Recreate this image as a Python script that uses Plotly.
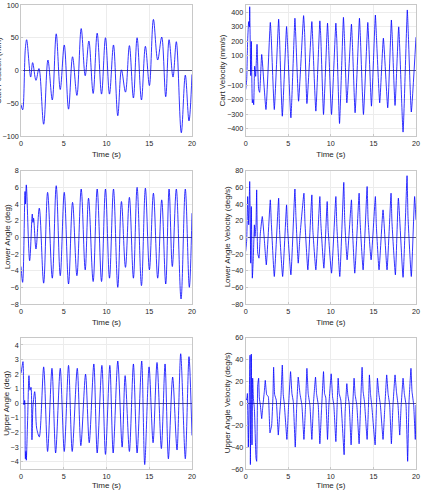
import plotly.graph_objects as go

# ---------------- data ----------------
pos_t = [0, 0.19, 0.51, 0.66, 1.13, 1.36, 1.75, 2.10, 2.65, 3.15, 3.66, 4.12, 4.59, 5.06, 5.56,
         6.03, 6.54, 7.04, 7.51, 7.94, 8.44, 8.91, 9.42, 9.88, 10.35, 10.82, 11.32, 11.75,
         12.22, 12.68, 13.15, 13.58, 14.09, 14.55, 15.02, 15.49, 15.99, 16.46, 16.93, 17.32,
         17.78, 18.17, 18.75, 19.22, 19.65, 20.0]
pos_y = [-52, -60, 34, 47, -10, 12, -15, 3, -82, 16, -45, 56, -29, 39, -59,
         21, -38, 64, -8, 45, -35, 57, -36, 50, -36, 39, -69, 1,
         -33, 38, -42, 50, -45, 37, -23, 78, 16, 51, -40, 47,
         -10, 44, -95, -7, -77, -6]

vel_t = [0, 0.12, 0.23, 0.35, 0.43, 0.47, 0.59, 0.66, 0.78, 0.86, 0.94, 1.05, 1.17, 1.33,
         1.52, 1.64, 1.88, 2.38, 2.89, 3.00, 3.36, 3.87, 3.98, 4.30, 4.80, 4.92, 5.31, 5.78,
         5.90, 6.21, 6.80, 6.92, 7.19, 7.77, 7.88, 8.24, 8.71, 8.82, 9.14, 9.61, 9.72, 10.08,
         10.59, 10.70, 11.02, 11.48, 11.60, 11.88, 12.42, 12.53, 12.85, 13.36, 13.47, 13.83,
         14.34, 14.45, 14.77, 15.23, 15.35, 15.74, 16.17, 16.68, 17.11, 17.22, 17.54, 17.97,
         18.48, 18.98, 19.10, 19.45, 20.0]
vel_y = [-131, -60, 210, 336, 300, 438, -35, 200, -222, -200, -235, 30, -40, 180,
         -130, -150, 110, -268, 330, 230, -268, 352, 210, -314, 302, 180, -325, 359,
         210, -211, 377, 260, -227, 336, 200, -279, 341, 230, -302, 325, 200, -302,
         325, 210, -364, 365, 220, -222, 318, 190, -290, 359, 230, -302,
         330, 200, -245, 381, 240, -222, 222, -256, 347, 220, -240, 300,
         -423, 416, 250, -285, 229]

la_t = [0, 0.19, 0.47, 0.53, 0.62, 1.01, 1.32, 1.40, 1.47, 1.75, 2.14, 2.65, 3.11, 3.66,
        4.12, 4.59, 5.06, 5.56, 6.03, 6.54, 7.04, 7.51, 7.90, 8.44, 8.91, 9.42, 9.88, 10.35,
        10.82, 11.32, 11.75, 12.22, 12.68, 13.15, 13.58, 14.09, 14.55, 15.02, 15.49, 15.99,
        16.46, 16.93, 17.32, 17.70, 18.17, 18.72, 19.22, 19.69, 20.0]
la_y = [-3.5, -5.4, 5.5, 4.0, 6.3, -2.8, 2.8, 1.8, 2.3, -1.4, 3.5, -5.5, 5.4, -4.9,
        6.2, -4.6, 5.4, -5.6, 4.2, -4.6, 5.8, -3.9, 4.7, -5.3, 5.8, -5.3, 5.8, -4.9,
        5.8, -6.0, 4.3, -3.6, 4.8, -4.9, 6.0, -5.8, 5.9, -3.9, 5.3, -4.9,
        4.5, -5.6, 5.8, -3.5, 5.8, -7.4, 5.8, -6.0, 2.9]

lav_t = [0, 0.12, 0.23, 0.35, 0.47, 0.59, 0.66, 0.78, 0.90, 1.02, 1.09, 1.21, 1.29, 1.41,
         1.56, 1.72, 1.95, 2.19, 2.42, 2.89, 3.00, 3.36, 3.87, 3.98, 4.34, 4.80, 4.91, 5.31,
         5.78, 5.90, 6.17, 6.37, 6.84, 6.96, 7.30, 7.77, 7.88, 8.24, 8.71, 8.82, 9.18, 9.57,
         9.68, 10.08, 10.59, 10.70, 11.05, 11.52, 11.63, 11.91, 12.42, 12.53, 12.81, 13.32,
         13.43, 13.79, 14.26, 14.37, 14.73, 15.23, 15.34, 15.66, 16.13, 16.60, 17.07, 17.18,
         17.58, 17.93, 18.48, 18.95, 19.06, 19.45, 19.84, 20.0]
lav_y = [-17, -3, 49, 15, 67, -31, 37, -49, -23, 15, 1, 15, 57, -19,
         -25, 5, 25, -3, -33, 45, 20, -47, 47, 8, -47, 39, 12, -45,
         58, 25, -31, 1, 53, 18, -39, 51, 10, -39, 49, 18, -37, 43,
         10, -43, 49, 15, -47, 66, 20, -27, 45, 12, -43, 53,
         20, -39, 61, 22, -27, 49, 15, -39, 33, -39, 53, 18,
         -45, 47, -48, 74, 25, -47, 49, 21]

ua_t = [0, 0.12, 0.23, 0.35, 0.43, 0.51, 0.58, 0.62, 0.78, 0.93, 1.05, 1.17, 1.28, 1.40,
        1.60, 1.67, 1.83, 2.14, 2.65, 3.11, 3.62, 4.05, 4.59, 5.06, 5.56, 5.99, 6.58, 7.00,
        7.55, 7.98, 8.52, 8.91, 9.46, 9.88, 10.39, 10.78, 11.32, 11.83, 12.18, 12.68, 13.15,
        13.58, 14.12, 14.47, 14.98, 15.45, 15.91, 16.42, 16.85, 17.24, 17.74, 18.25, 18.68,
        19.22, 19.65, 20.0]
ua_y = [2.06, 2.5, 2.86, -0.1, 0.2, -3.8, -3.3, -3.9, -1.0, 1.9, 0.9, 1.1, -2.5, -0.2,
        0.8, 0.45, -1.7, -2.3, 2.5, -3.3, 2.4, -3.4, 2.4, -3.3, 2.6, -3.3, 2.4, -2.9,
        2.0, -2.7, 2.7, -3.4, 2.6, -3.5, 2.6, -3.4, 2.9, -3.0, 1.9, -3.3, 2.7,
        -3.4, 2.9, -4.2, 2.5, -2.7, 2.8, -3.1, 2.7, -3.8, 1.8, -3.2, 3.4,
        -3.8, 3.2, -2.2]

uav_t = [0, 0.12, 0.20, 0.31, 0.51, 0.55, 0.66, 0.74, 0.82, 0.90, 1.02, 1.21, 1.29, 1.41,
         1.52, 1.60, 1.72, 1.88, 1.99, 2.19, 2.30, 2.46, 2.66, 2.85, 3.05, 3.20, 3.28, 3.40,
         3.59, 3.83, 3.98, 4.14, 4.30, 4.41, 4.53, 4.84, 5.04, 5.27, 5.43, 5.59, 5.82, 5.98,
         6.17, 6.37, 6.60, 6.84, 7.03, 7.19, 7.34, 7.54, 7.77, 7.97, 8.20, 8.32, 8.52, 8.71,
         8.91, 9.14, 9.26, 9.41, 9.61, 9.77, 10.04, 10.20, 10.35, 10.59, 10.74, 10.86, 10.98,
         11.17, 11.56, 11.68, 11.88, 11.99, 12.15, 12.38, 12.54, 12.73, 12.85, 13.05, 13.32,
         13.48, 13.67, 13.79, 13.95, 14.26, 14.41, 14.53, 14.65, 14.80, 15.20, 15.35, 15.47,
         15.63, 15.82, 16.13, 16.33, 16.56, 16.72, 16.91, 17.11, 17.30, 17.54, 17.70, 17.89,
         18.09, 18.24, 18.48, 18.63, 18.83, 19.02, 19.18, 19.41, 19.53, 19.73, 19.92, 20.0]
uav_y = [4.6, 3, 9, -40, 44, -56, 45, -38, 23, 4.6, -4.6, -50, -53, 17,
         23, 5, -1.5, -14, -4.6, 11, 21, 8, 6, -27, -20, 6, 33, 8,
         3, -29, -11, 6, 35, 8, 0, -33, -1.5, 29, 9, 1.5, -40, -4.6,
         24, 9, -1.5, -33, -1.5, 32, 9, -1.5, -33, 1.5, 24, 9, -1.5, -37,
         -4.6, 29, 9, 5, -33, -1.5, 27, 6, -1.5, -35, -1.5, 23, 9,
         3, -47, -8, 18, 8, 0, -38, -8, 23, 8, -1.5, -37,
         -4.6, 33, 11, 1.5, -33, -4.6, 26, 9, -1.5, -38, -4.6, 23,
         9, -1.5, -33, -4.6, 26, 9, -1.5, -37, -1.5, 26, 11, -1.5,
         -29, -4.6, 23, 9, -1.5, -53, 1.5, 32, 11, -1.5, -33, -1.5]

y_titles = ["Cart Position (mm)", "Cart Velocity (mm/s)", "Lower Angle (deg)",
            "Lower Angle Velocity (deg/s)", "Upper Angle (deg)", "Upper Angle Velocity (deg/s)"]
x_title = "Time (s)"
x_ticks = [0, 5, 10, 15, 20]
y_ranges = [(-100, 100), (-450, 450), (-8, 8), (-80, 80), (-4.5, 4.5), (-60, 60)]
y_dticks = [50, 100, 2, 20, 1, 20]

series = [(pos_t, pos_y), (vel_t, vel_y), (la_t, la_y), (lav_t, lav_y), (ua_t, ua_y), (uav_t, uav_y)]
smooth = [1.0, 0.4, 1.0, 0.4, 0.8, 0.3]

# ---------------- layout ----------------
W, H = 421, 490
x_domains = [[0.0499, 0.456], [0.5836, 0.9881]]
y_domains = [[0.7224, 0.9898], [0.3796, 0.6516], [0.0429, 0.3108]]
# horizontal centre of each y-axis title (px); the first one is partly off the page, as in the original
ytitle_px = [-1.5, 223, 7, 227, 6.5, 227]

FONT = "Liberation Sans, Arial, Helvetica, sans-serif"
TXT = "#262626"
AX = "#c8c8c8"
GRID = "#ececec"

fig = go.Figure()
layout = dict(
    width=W, height=H,
    margin=dict(l=0, r=0, t=0, b=0),
    paper_bgcolor="white", plot_bgcolor="white",
    showlegend=False,
    font=dict(family=FONT, size=7, color=TXT),
)
annotations = []

for i, ((t, y), title) in enumerate(zip(series, y_titles)):
    r, c = divmod(i, 2)
    n = "" if i == 0 else str(i + 1)
    fig.add_trace(go.Scatter(
        x=t, y=y, mode="lines",
        line=dict(color="#0000ff", width=0.8, shape="spline", smoothing=smooth[i]),
        xaxis="x" + n, yaxis="y" + n, hoverinfo="skip"))
    layout["xaxis" + n] = dict(
        domain=x_domains[c], anchor="y" + n, range=[0, 20],
        tickvals=x_ticks, ticks="inside", ticklen=2, tickcolor=AX,
        showline=True, linecolor=AX, linewidth=0.8, mirror=True,
        showgrid=True, gridcolor=GRID, gridwidth=0.8, zeroline=False,
        tickfont=dict(size=7.2, color=TXT),
        title=dict(text=x_title, font=dict(size=8, color=TXT), standoff=4),
        automargin=False)
    layout["yaxis" + n] = dict(
        domain=y_domains[r], anchor="x" + n, range=list(y_ranges[i]),
        dtick=y_dticks[i], tick0=0, ticks="inside", ticklen=2, tickcolor=AX,
        showline=True, linecolor=AX, linewidth=0.8, mirror=True,
        showgrid=True, gridcolor=GRID, gridwidth=0.8,
        zeroline=True, zerolinecolor="#5a5a78", zerolinewidth=0.8,
        tickfont=dict(size=7.2, color=TXT),
        automargin=False)
    annotations.append(dict(
        text=title, textangle=-90, showarrow=False,
        xref="paper", yref="paper",
        x=ytitle_px[i] / W, y=sum(y_domains[r]) / 2,
        xanchor="center", yanchor="middle",
        font=dict(size=8, color=TXT, family=FONT)))

layout["annotations"] = annotations
fig.update_layout(**layout)
fig.write_html("out.html")
